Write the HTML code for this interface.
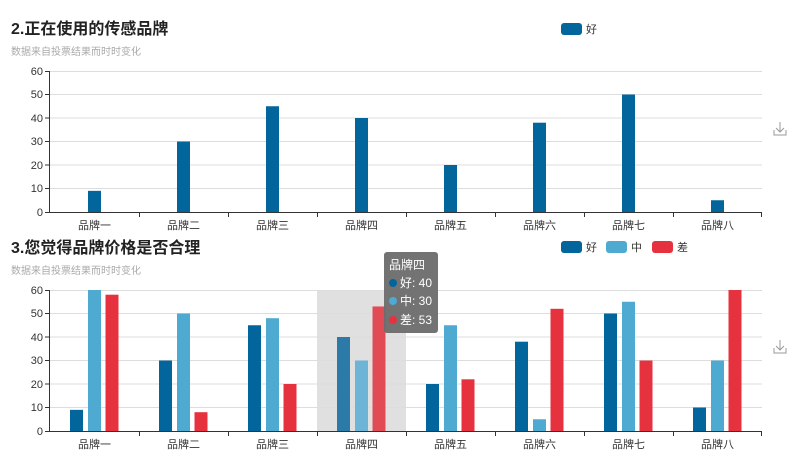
<!DOCTYPE html>
<html><head><meta charset="utf-8"><style>
body{margin:0;background:#fff;}
svg{display:block;font-family:"Liberation Sans","Noto Sans CJK SC",sans-serif;}
.t{font-size:16px;font-weight:bold;fill:#222;}
.s{font-size:10px;fill:#aaa;}
.yl{font-size:11px;fill:#333;text-anchor:end;}
.xl{font-size:11px;fill:#333;text-anchor:middle;}
.g{stroke:#ddd;stroke-width:1;}
.lg{font-size:11px;fill:#333;}
</style></head><body>
<svg width="800" height="467" viewBox="0 0 800 467">
<text class="t" x="11" y="34">2.正在使用的传感品牌</text>
<text class="s" x="11" y="55">数据来自投票结果而时时变化</text>
<rect x="561" y="23" width="21" height="12" rx="3" fill="#02669d"/><text class="lg" x="586" y="33">好</text>
<g class="g">
<line x1="50" x2="762" y1="71.5" y2="71.5"/><line x1="50" x2="762" y1="94.5" y2="94.5"/><line x1="50" x2="762" y1="118" y2="118"/><line x1="50" x2="762" y1="141.5" y2="141.5"/><line x1="50" x2="762" y1="165" y2="165"/><line x1="50" x2="762" y1="188.5" y2="188.5"/>
</g>
<g fill="#02669d">
<rect x="88" y="190.85" width="13" height="21.15"/><rect x="177" y="141.5" width="13" height="70.5"/><rect x="266" y="106.25" width="13" height="105.75"/><rect x="355" y="118" width="13" height="94"/><rect x="444" y="165" width="13" height="47"/><rect x="533" y="122.7" width="13" height="89.3"/><rect x="622" y="94.5" width="13" height="117.5"/><rect x="711" y="200.25" width="13" height="11.75"/>
</g>
<g stroke="#333" stroke-width="1">
<line x1="50" x2="762" y1="212.5" y2="212.5"/><line x1="49.5" x2="49.5" y1="71" y2="213"/>
<line x1="45" x2="50" y1="71.5" y2="71.5"/><line x1="45" x2="50" y1="94.5" y2="94.5"/><line x1="45" x2="50" y1="118" y2="118"/><line x1="45" x2="50" y1="141.5" y2="141.5"/><line x1="45" x2="50" y1="165" y2="165"/><line x1="45" x2="50" y1="188.5" y2="188.5"/><line x1="45" x2="50" y1="212.5" y2="212.5"/>
<line x1="139.5" x2="139.5" y1="212" y2="217"/><line x1="228.5" x2="228.5" y1="212" y2="217"/><line x1="317.5" x2="317.5" y1="212" y2="217"/><line x1="406.5" x2="406.5" y1="212" y2="217"/><line x1="495.5" x2="495.5" y1="212" y2="217"/><line x1="584.5" x2="584.5" y1="212" y2="217"/><line x1="673.5" x2="673.5" y1="212" y2="217"/><line x1="761.5" x2="761.5" y1="212" y2="217"/>
</g>
<text class="yl" x="43" y="75">60</text><text class="yl" x="43" y="98">50</text><text class="yl" x="43" y="122">40</text><text class="yl" x="43" y="145">30</text><text class="yl" x="43" y="169">20</text><text class="yl" x="43" y="192">10</text><text class="yl" x="43" y="216">0</text>
<text class="xl" x="94.5" y="229">品牌一</text><text class="xl" x="183.5" y="229">品牌二</text><text class="xl" x="272.5" y="229">品牌三</text><text class="xl" x="361.5" y="229">品牌四</text><text class="xl" x="450.5" y="229">品牌五</text><text class="xl" x="539.5" y="229">品牌六</text><text class="xl" x="628.5" y="229">品牌七</text><text class="xl" x="717.5" y="229">品牌八</text>
<g stroke="#999" fill="none" stroke-width="1"><path d="M780 122v10M776 128l4 4 4-4M774 130v5h12v-5"/></g>

<text class="t" x="11" y="253">3.您觉得品牌价格是否合理</text>
<text class="s" x="11" y="274">数据来自投票结果而时时变化</text>
<rect x="561" y="241" width="21" height="12" rx="3" fill="#02669d"/><text class="lg" x="586" y="251">好</text>
<rect x="606" y="241" width="21" height="12" rx="3" fill="#4eaad0"/><text class="lg" x="631" y="251">中</text>
<rect x="652" y="241" width="21" height="12" rx="3" fill="#e5323e"/><text class="lg" x="677" y="251">差</text>
<rect x="317" y="290" width="89" height="141" fill="#e0e0e0"/>
<g class="g">
<line x1="50" x2="762" y1="290.5" y2="290.5"/><line x1="50" x2="762" y1="313.5" y2="313.5"/><line x1="50" x2="762" y1="337" y2="337"/><line x1="50" x2="762" y1="360.5" y2="360.5"/><line x1="50" x2="762" y1="384" y2="384"/><line x1="50" x2="762" y1="407.5" y2="407.5"/>
</g>
<g fill="#02669d">
<rect x="70" y="409.85" width="13" height="21.15"/><rect x="159" y="360.5" width="13" height="70.5"/><rect x="248" y="325.25" width="13" height="105.75"/><rect x="337" y="337" width="13" height="94" fill="#2c7aa8"/><rect x="426" y="384" width="13" height="47"/><rect x="515" y="341.7" width="13" height="89.3"/><rect x="604" y="313.5" width="13" height="117.5"/><rect x="693" y="407.5" width="13" height="23.5"/>
</g>
<g fill="#4eaad0">
<rect x="88" y="290" width="13" height="141"/><rect x="177" y="313.5" width="13" height="117.5"/><rect x="266" y="318.2" width="13" height="112.8"/><rect x="355" y="360.5" width="13" height="70.5" fill="#6db4d6"/><rect x="444" y="325.25" width="13" height="105.75"/><rect x="533" y="419.25" width="13" height="11.75"/><rect x="622" y="301.75" width="13" height="129.25"/><rect x="711" y="360.5" width="13" height="70.5"/>
</g>
<g fill="#e5323e">
<rect x="105.5" y="294.7" width="13" height="136.3"/><rect x="194.5" y="412.2" width="13" height="18.8"/><rect x="283.5" y="384" width="13" height="47"/><rect x="372.5" y="306.45" width="13" height="124.55" fill="#e14b56"/><rect x="461.5" y="379.3" width="13" height="51.7"/><rect x="550.5" y="308.8" width="13" height="122.2"/><rect x="639.5" y="360.5" width="13" height="70.5"/><rect x="728.5" y="290" width="13" height="141"/>
</g>
<g stroke="#333" stroke-width="1">
<line x1="50" x2="762" y1="431.5" y2="431.5"/><line x1="49.5" x2="49.5" y1="290" y2="432"/>
<line x1="45" x2="50" y1="290.5" y2="290.5"/><line x1="45" x2="50" y1="313.5" y2="313.5"/><line x1="45" x2="50" y1="337" y2="337"/><line x1="45" x2="50" y1="360.5" y2="360.5"/><line x1="45" x2="50" y1="384" y2="384"/><line x1="45" x2="50" y1="407.5" y2="407.5"/><line x1="45" x2="50" y1="431.5" y2="431.5"/>
<line x1="139.5" x2="139.5" y1="431" y2="436"/><line x1="228.5" x2="228.5" y1="431" y2="436"/><line x1="317.5" x2="317.5" y1="431" y2="436"/><line x1="406.5" x2="406.5" y1="431" y2="436"/><line x1="495.5" x2="495.5" y1="431" y2="436"/><line x1="584.5" x2="584.5" y1="431" y2="436"/><line x1="673.5" x2="673.5" y1="431" y2="436"/><line x1="761.5" x2="761.5" y1="431" y2="436"/>
</g>
<text class="yl" x="43" y="294">60</text><text class="yl" x="43" y="317">50</text><text class="yl" x="43" y="341">40</text><text class="yl" x="43" y="364">30</text><text class="yl" x="43" y="388">20</text><text class="yl" x="43" y="411">10</text><text class="yl" x="43" y="435">0</text>
<text class="xl" x="94.5" y="448">品牌一</text><text class="xl" x="183.5" y="448">品牌二</text><text class="xl" x="272.5" y="448">品牌三</text><text class="xl" x="361.5" y="448">品牌四</text><text class="xl" x="450.5" y="448">品牌五</text><text class="xl" x="539.5" y="448">品牌六</text><text class="xl" x="628.5" y="448">品牌七</text><text class="xl" x="717.5" y="448">品牌八</text>
<g stroke="#999" fill="none" stroke-width="1"><path d="M780 340v10M776 346l4 4 4-4M774 348v5h12v-5"/></g>

<rect x="384" y="252" width="54" height="81" rx="3" fill="#6b6b6b" fill-opacity="0.95"/>
<g font-size="12" fill="#fff">
<text x="389" y="269">品牌四</text>
<circle cx="393" cy="283" r="4" fill="#02669d"/><text x="400" y="287">好: 40</text>
<circle cx="393" cy="301" r="4" fill="#4eaad0"/><text x="400" y="305">中: 30</text>
<circle cx="393" cy="320" r="4" fill="#e5323e"/><text x="400" y="324">差: 53</text>
</g>
</svg>
</body></html>
